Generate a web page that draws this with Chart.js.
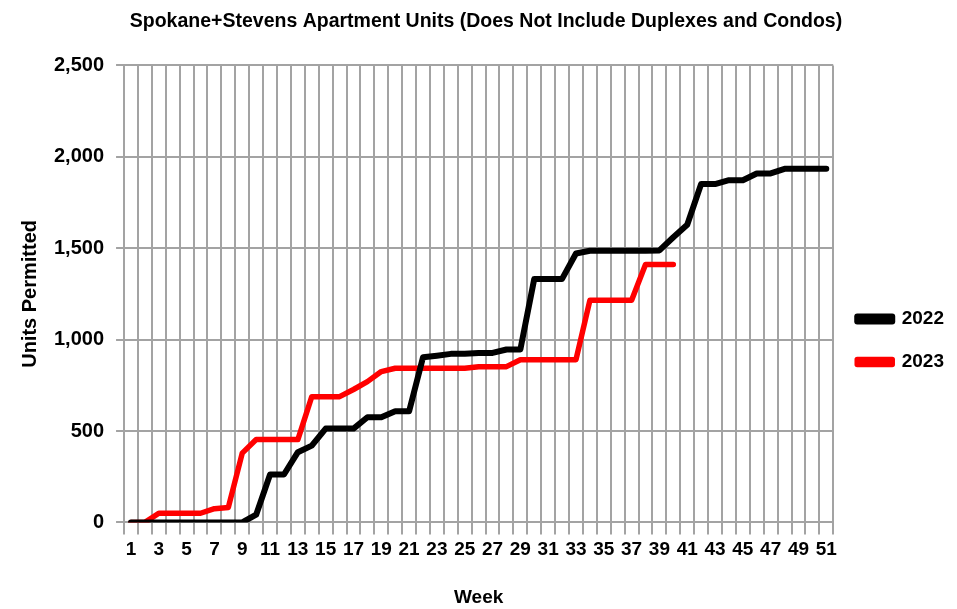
<!DOCTYPE html>
<html>
<head>
<meta charset="utf-8">
<script src="https://cdn.jsdelivr.net/npm/chart.js@4/dist/chart.umd.min.js"></script>
<style>
	body { margin: 0; background: #fff; }
	#wrap { width: 957px; height: 609px; }
</style>
</head>
<body>
<div id="wrap"><canvas id="myChart" width="957" height="609"></canvas></div>
<script>
// weeks 1..51
const weeks = [];
for (let i = 1; i <= 51; i++) {
	weeks.push(String(i));
}

const units2022 = [0, 0, 0, 0, 0, 0, 0, 0, 0, 42,
	262, 262, 384, 420, 513, 513, 513, 575, 575, 608,
	608, 903, 912, 922, 922, 927, 927, 946, 946, 1332,
	1332, 1332, 1471, 1486, 1486, 1486, 1486, 1486, 1488, 1560,
	1628, 1851, 1851, 1872, 1872, 1909, 1909, 1934, 1934, 1934,
	1934];

const units2023 = [0, 0, 50, 50, 50, 50, 75, 82, 379, 453,
	453, 453, 453, 688, 688, 688, 727, 770, 825, 843,
	843, 843, 843, 843, 843, 852, 852, 852, 890, 890,
	890, 890, 890, 1215, 1215, 1215, 1215, 1411, 1411, 1411];

const yTicks = [0, 500, 1000, 1500, 2000, 2500];

const fontFamily = "'Liberation Sans', Arial, sans-serif";
const gridColor = '#a3a3a3';

window.onload = function () {
	const ctx = document.getElementById('myChart').getContext('2d');
	const myChart = new Chart(ctx, {
		type: 'line',
		data: {
			labels: weeks,
			datasets: [{
				label: '2022',
				data: units2022,
				borderColor: '#000000',
				backgroundColor: '#000000',
				borderWidth: 6,
				borderCapStyle: 'round',
				borderJoinStyle: 'round',
				pointRadius: 0,
				tension: 0
			}, {
				label: '2023',
				data: units2023,
				borderColor: '#ff0000',
				backgroundColor: '#ff0000',
				borderWidth: 5.5,
				borderCapStyle: 'round',
				borderJoinStyle: 'round',
				pointRadius: 0,
				tension: 0
			}]
		},
		options: {
			responsive: false,
			animation: false,
			layout: {
				padding: { left: 18, right: 3, top: 0, bottom: 0 }
			},
			plugins: {
				title: {
					display: true,
					text: 'Spokane+Stevens Apartment Units (Does Not Include Duplexes and Condos)',
					color: '#000',
					font: { family: fontFamily, size: 19.5, weight: 'bold' },
					padding: { top: 10, bottom: 32 }
				},
				legend: {
					display: true,
					position: 'right',
					title: {
						display: true,
						text: ' ',
						font: { size: 10 },
						padding: 30
					},
					labels: {
						color: '#000',
						font: { family: fontFamily, size: 19, weight: 'bold' },
						boxWidth: 35,
						boxHeight: 5,
						padding: 24
					}
				},
				tooltip: { enabled: false }
			},
			scales: {
				x: {
					offset: true,
					grid: {
						offset: true,
						color: gridColor,
						lineWidth: 2,
						tickLength: 12
					},
					border: { color: gridColor, width: 2 },
					ticks: {
						autoSkip: false,
						maxRotation: 0,
						color: '#000',
						font: { family: fontFamily, size: 19, weight: 'bold' },
						padding: 4,
						callback: function (value, index) {
							return index % 2 === 0 ? weeks[index] : '';
						}
					},
					title: {
						display: true,
						text: 'Week',
						color: '#000',
						font: { family: fontFamily, size: 19, weight: 'bold' },
						padding: { top: 21, bottom: 0 }
					}
				},
				y: {
					min: yTicks[0],
					max: yTicks[yTicks.length - 1],
					afterBuildTicks: function (axis) {
						axis.ticks = yTicks.map(v => ({ value: v }));
					},
					grid: {
						color: gridColor,
						lineWidth: 2,
						tickLength: 8
					},
					border: { color: gridColor, width: 2 },
					ticks: {
						color: '#000',
						font: { family: fontFamily, size: 20, weight: 'bold' },
						padding: 12,
						callback: function (value) {
							return value.toLocaleString('en-US');
						}
					},
					title: {
						display: true,
						text: 'Units Permitted',
						color: '#000',
						font: { family: fontFamily, size: 20, weight: 'bold' },
						padding: { top: 0, bottom: 0 }
					}
				}
			}
		}
	});
};
</script>
</body>
</html>
